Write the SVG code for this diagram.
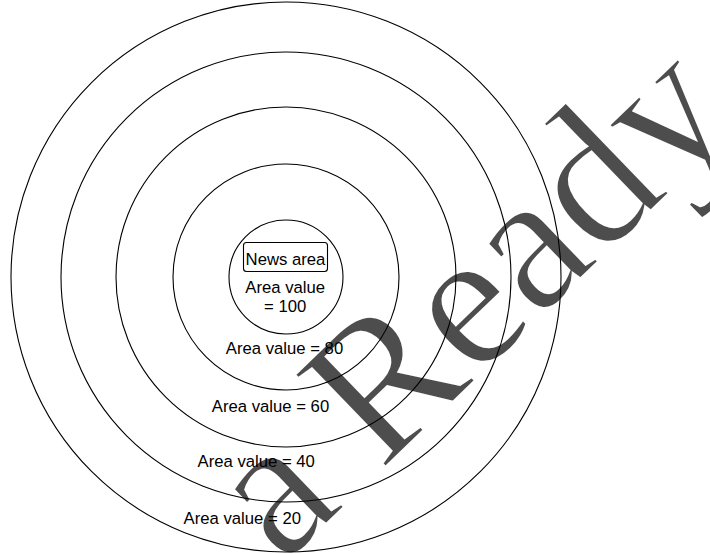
<svg xmlns="http://www.w3.org/2000/svg" width="710" height="554" viewBox="0 0 710 554">
<style>
.ring{fill:none;stroke:#000;stroke-width:1.1}
.lbl{font-family:"Liberation Sans",Arial,sans-serif;font-size:16.7px;fill:#000;text-anchor:middle}
.wm{font-family:"Liberation Serif","Times New Roman",serif;font-size:198px;fill:#4d4d4d;stroke:#fff;stroke-width:2.5;letter-spacing:-1px}
</style>
<rect width="710" height="554" fill="#fff"/>
<g id="watermark">
<text class="wm" transform="translate(283 566) rotate(-44)">a Ready</text>
</g>
<g id="connectors"></g>
<g id="ring20"><circle class="ring" cx="286" cy="277" r="275"/><text class="lbl" x="242.3" y="524.3">Area value = 20</text></g>
<g id="ring40"><circle class="ring" cx="286" cy="277" r="225"/><text class="lbl" x="256.2" y="467.3">Area value = 40</text></g>
<g id="ring60"><circle class="ring" cx="286" cy="277" r="170"/><text class="lbl" x="270.5" y="411.7">Area value = 60</text></g>
<g id="ring80"><circle class="ring" cx="286" cy="277" r="113"/><text class="lbl" x="284.5" y="354.3">Area value = 80</text></g>
<g id="ring100"><circle class="ring" cx="286" cy="277" r="57"/><text class="lbl" x="285.2" y="292.7">Area value</text><text class="lbl" x="285.2" y="312.3">= 100</text></g>
<g id="news-area"><rect x="243.5" y="242.5" width="84" height="29" rx="3" fill="#fff" stroke="#000" stroke-width="1.1"/><text class="lbl" x="285.5" y="265">News area</text></g>
</svg>
